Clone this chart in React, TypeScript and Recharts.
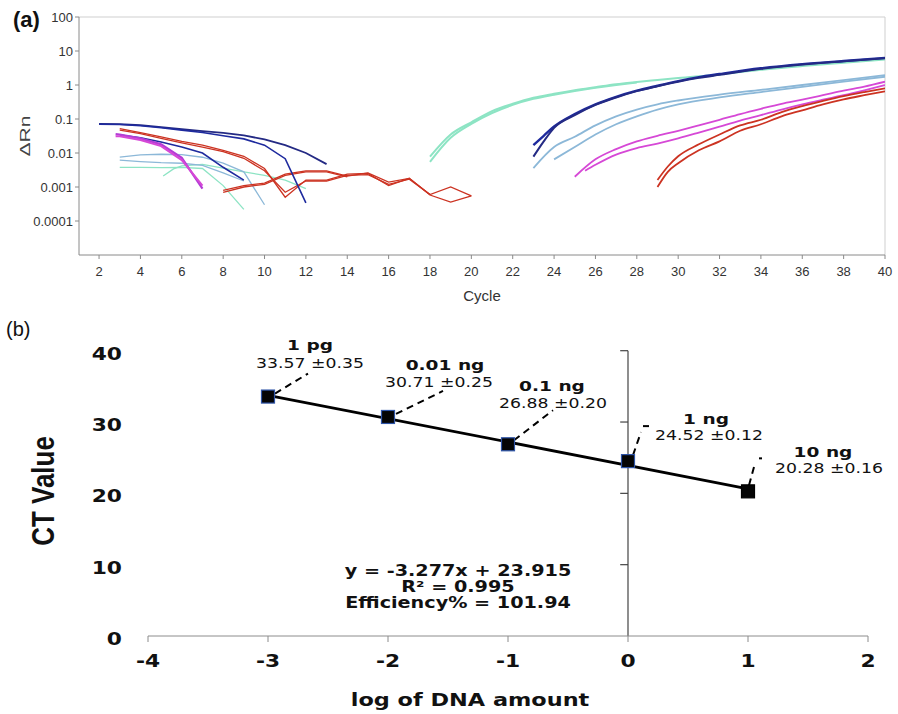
import React from 'react'
import { LineChart, Line, XAxis, YAxis, ReferenceLine, ComposedChart, Scatter } from 'recharts'

type Pt = [number, number]

// (a) amplification plot — ΔRn per cycle
const cycleTicks = [2, 4, 6, 8, 10, 12, 14, 16, 18, 20, 22, 24, 26, 28, 30, 32, 34, 36, 38, 40]
const rnTicks = [0.0001, 0.001, 0.01, 0.1, 1, 10, 100]

const navyBaseA: Pt[] = [[2, 0.072], [3, 0.071], [4, 0.066], [5, 0.058], [6, 0.05], [7, 0.044], [8, 0.039], [9, 0.033], [10, 0.025], [11, 0.017], [12, 0.01], [13, 0.0047]]
const navyBaseB: Pt[] = [[2, 0.07], [3, 0.069], [4, 0.063], [5, 0.055], [6, 0.047], [7, 0.04], [8, 0.032], [9, 0.026], [10, 0.017], [11, 0.0068], [12, 0.00034]]
const navyBaseC: Pt[] = [[3, 0.034], [4, 0.028], [5, 0.021], [6, 0.015], [7, 0.01], [8, 0.0038], [9, 0.0016]]
const magBaseA: Pt[] = [[2.8, 0.036], [3, 0.035], [4, 0.027], [5, 0.018], [6, 0.0072], [7, 0.0009]]
const magBaseB: Pt[] = [[2.8, 0.031], [3, 0.031], [4, 0.024], [5, 0.016], [6, 0.0062], [7, 0.0011]]
const redBaseA: Pt[] = [[3, 0.052], [4, 0.04], [5, 0.03], [6, 0.022], [7, 0.017], [8, 0.012], [9, 0.008], [10, 0.0035], [11, 0.0005], [12, 0.0016], [13, 0.0016], [14, 0.0024], [15, 0.0025], [16, 0.0011], [17, 0.0018], [18, 0.00058], [19, 0.00036], [20, 0.00055]]
const redBaseB: Pt[] = [[3, 0.047], [4, 0.037], [5, 0.027], [6, 0.02], [7, 0.015], [8, 0.011], [9, 0.007], [10, 0.003], [11, 0.0007], [12, 0.0015], [13, 0.0015], [14, 0.0022], [15, 0.0023], [16, 0.0012], [17, 0.0017], [18, 0.0006]]
const redLateA: Pt[] = [[8, 0.0008], [9, 0.0011], [10, 0.0013], [11, 0.0024], [12, 0.003], [13, 0.003], [14, 0.0021], [15, 0.0026], [16, 0.0014], [17, 0.0018], [18, 0.0006], [19, 0.001], [20, 0.00055]]
const redLateB: Pt[] = [[8, 0.0007], [9, 0.001], [10, 0.0012], [11, 0.0022], [12, 0.0028], [13, 0.0028], [14, 0.002]]
const cyanBaseA: Pt[] = [[3, 0.0038], [4, 0.0038], [5, 0.0037], [6, 0.0038], [7, 0.0035], [8, 0.0011], [9, 0.00022]]
const cyanBaseB: Pt[] = [[5.1, 0.0021], [5.6, 0.0034], [6, 0.0042], [7, 0.0046], [8, 0.0036], [9, 0.0028], [10, 0.0022], [11, 0.0016], [12, 0.0009]]
const steelBaseA: Pt[] = [[3, 0.0076], [4, 0.0088], [5, 0.0092], [6, 0.009], [7, 0.0075], [8, 0.005], [9, 0.0028], [10, 0.0003]]
const steelBaseB: Pt[] = [[3, 0.0062], [4, 0.0056], [5, 0.0052], [6, 0.005], [7, 0.0043], [8, 0.0026], [9, 0.0015]]

const cyanAmpA: Pt[] = [[18, 0.0078], [19, 0.035], [20, 0.08], [21, 0.17], [22, 0.28], [23, 0.42], [24, 0.55], [25, 0.7], [26, 0.86], [27, 1.05], [28, 1.22], [29, 1.4], [30, 1.6], [32, 2.05], [34, 2.8], [36, 3.6], [38, 4.5], [40, 5.6]]
const cyanAmpB: Pt[] = [[18, 0.0055], [19, 0.028], [20, 0.072], [21, 0.15], [22, 0.26], [23, 0.39], [24, 0.52], [25, 0.67], [26, 0.83], [27, 1.0], [28, 1.18]]
const steelAmpA: Pt[] = [[23, 0.0036], [24, 0.015], [25, 0.03], [26, 0.065], [27, 0.12], [28, 0.19], [29, 0.27], [30, 0.35], [32, 0.52], [34, 0.72], [36, 1.0], [38, 1.4], [40, 1.95]]
const steelAmpB: Pt[] = [[24, 0.0065], [25, 0.015], [26, 0.035], [27, 0.07], [28, 0.12], [29, 0.19], [30, 0.27], [32, 0.43], [34, 0.62], [36, 0.88], [38, 1.25], [40, 1.75]]
const magAmpA: Pt[] = [[25, 0.002], [26, 0.0065], [27, 0.013], [28, 0.022], [29, 0.032], [30, 0.045], [31, 0.065], [32, 0.095], [33, 0.14], [34, 0.2], [35, 0.28], [36, 0.37], [37, 0.5], [38, 0.68], [39, 0.9], [40, 1.25]]
const magAmpB: Pt[] = [[25.5, 0.003], [26, 0.0045], [27, 0.009], [28, 0.014], [29, 0.019], [30, 0.027], [31, 0.04], [32, 0.06], [33, 0.09], [34, 0.13], [35, 0.19], [36, 0.27], [37, 0.37], [38, 0.5], [39, 0.7], [40, 1.0]]
const redAmpA: Pt[] = [[29, 0.0016], [29.5, 0.004], [30, 0.008], [31, 0.018], [32, 0.035], [33, 0.065], [34, 0.095], [35, 0.16], [36, 0.24], [37, 0.34], [38, 0.47], [39, 0.62], [40, 0.8]]
const redAmpB: Pt[] = [[29, 0.001], [29.5, 0.0028], [30, 0.005], [31, 0.012], [32, 0.022], [33, 0.045], [34, 0.07], [35, 0.12], [36, 0.18], [37, 0.27], [38, 0.38], [39, 0.5], [40, 0.65]]
const navyAmpA: Pt[] = [[23, 0.017], [23.5, 0.032], [24, 0.06], [25, 0.14], [26, 0.27], [27, 0.45], [28, 0.68], [29, 0.95], [30, 1.3], [31, 1.7], [32, 2.1], [34, 3.1], [36, 4.1], [38, 5.1], [40, 6.3]]
const navyAmpB: Pt[] = [[23, 0.0078], [23.5, 0.022], [24, 0.055], [25, 0.13], [26, 0.26], [27, 0.43], [28, 0.66], [29, 0.92], [30, 1.25], [31, 1.62], [32, 2.0], [34, 3.0], [36, 4.0], [38, 5.0], [40, 6.1]]

// (b) standard curve
const logAmount = [-3, -2, -1, 0, 1]
const ctValue = [33.57, 30.71, 26.88, 24.52, 20.28]
const amountLabel = ['1 pg', '0.01 ng', '0.1 ng', '1 ng', '10 ng']
const ctSd = ['±0.35', '±0.25', '±0.20', '±0.12', '±0.16']
const trendX = [-3, 1]
const trendY = [33.75, 20.64]
const fitText = ['y = -3.277x + 23.915', 'R² = 0.995', 'Efficiency% = 101.94']
const xTicksB = [-4, -3, -2, -1, 0, 1, 2]
const yTicksB = [0, 10, 20, 30, 40]

const NAVY = '#1e2a9e'
const NAVY_DK = '#242a84'
const STEEL = '#8cb8d8'
const CYAN = '#8de4c4'
const MAG = '#d648d6'
const PURPLE = '#b43cd6'
const RED = '#cc3322'

const curvesA = [
  { id: 'cb1', pts: cyanBaseA, color: CYAN, w: 1.3, smooth: false },
  { id: 'cb2', pts: cyanBaseB, color: CYAN, w: 1.3, smooth: false },
  { id: 'sb1', pts: steelBaseA, color: STEEL, w: 1.3, smooth: false },
  { id: 'sb2', pts: steelBaseB, color: STEEL, w: 1.3, smooth: false },
  { id: 'rb1', pts: redBaseA, color: RED, w: 1.3, smooth: false },
  { id: 'rb2', pts: redBaseB, color: RED, w: 1.3, smooth: false },
  { id: 'rl1', pts: redLateA, color: RED, w: 1.3, smooth: false },
  { id: 'rl2', pts: redLateB, color: RED, w: 1.3, smooth: false },
  { id: 'nb1', pts: navyBaseA, color: NAVY_DK, w: 1.8, smooth: false },
  { id: 'nb2', pts: navyBaseB, color: NAVY, w: 1.6, smooth: false },
  { id: 'nb3', pts: navyBaseC, color: NAVY, w: 1.6, smooth: false },
  { id: 'mb1', pts: magBaseA, color: PURPLE, w: 2.2, smooth: false },
  { id: 'mb2', pts: magBaseB, color: MAG, w: 2, smooth: false },
  { id: 'ca1', pts: cyanAmpA, color: CYAN, w: 2, smooth: true },
  { id: 'ca2', pts: cyanAmpB, color: CYAN, w: 2, smooth: true },
  { id: 'sa1', pts: steelAmpA, color: STEEL, w: 1.8, smooth: true },
  { id: 'sa2', pts: steelAmpB, color: STEEL, w: 1.8, smooth: true },
  { id: 'ma1', pts: magAmpA, color: MAG, w: 1.8, smooth: true },
  { id: 'ma2', pts: magAmpB, color: MAG, w: 1.8, smooth: true },
  { id: 'ra1', pts: redAmpA, color: RED, w: 1.8, smooth: true },
  { id: 'ra2', pts: redAmpB, color: RED, w: 1.8, smooth: true },
  { id: 'na1', pts: navyAmpA, color: NAVY, w: 2.4, smooth: true },
  { id: 'na2', pts: navyAmpB, color: NAVY_DK, w: 2, smooth: true },
]

// label placement around each standard point, pixels from the square's centre
const annoPos = [
  { lead: [7, -3, 40, -23], name: [42, -47], val: [42, -29] },
  { lead: [8, -3, 55, -26], name: [57, -47], val: [51, -30] },
  { lead: [6, -4, 45, -34], name: [44, -53], val: [45, -36] },
  { lead: [5, -6, 13, -29], dash: [15, -35, 21, -35], name: [78, -37], val: [81, -21] },
  { lead: [1, -6, 7, -28], dash: [11, -33, 14, -33], name: [75, -34], val: [81, -18] },
]
const squareEdge = ['#2f55a8', '#2f55a8', '#2f55a8', '#2f55a8', '#000']

const toData = (pts: Pt[]) => pts.map(([c, v]) => ({ c, v }))

const narrow = '"Liberation Sans Narrow", "Arial Narrow", sans-serif'
const wide = '"DejaVu Sans", Verdana, sans-serif'
const SX = 1.28

function WideText({ x, y, size, bold, anchor = 'middle', children }: any) {
  return (
    <text
      transform={`translate(${x} ${y}) scale(${SX} 1)`}
      textAnchor={anchor}
      fontFamily={wide}
      fontSize={size}
      fontWeight={bold ? 700 : 400}
      fill="#111"
    >
      {children}
    </text>
  )
}

function StdPoint(props: any) {
  const { cx, cy, payload } = props
  const i = logAmount.indexOf(payload.x)
  const a = annoPos[i]
  const s = 13
  return (
    <g>
      <line x1={cx + a.lead[0]} y1={cy + a.lead[1]} x2={cx + a.lead[2]} y2={cy + a.lead[3]} stroke="#000" strokeWidth={2} strokeDasharray="7 5" />
      {a.dash && <line x1={cx + a.dash[0]} y1={cy + a.dash[1]} x2={cx + a.dash[2]} y2={cy + a.dash[3]} stroke="#000" strokeWidth={2} />}
      <rect x={cx - s / 2} y={cy - s / 2} width={s} height={s} fill="#050505" stroke={squareEdge[i]} strokeWidth={1.2} />
      <WideText x={cx + a.name[0]} y={cy + a.name[1]} size={14.5} bold>{amountLabel[i]}</WideText>
      <WideText x={cx + a.val[0]} y={cy + a.val[1]} size={13.5}>{`${ctValue[i].toFixed(2)} ${ctSd[i]}`}</WideText>
    </g>
  )
}

export default function App() {
  const pointsB = logAmount.map((x, i) => ({ x, y: ctValue[i] }))
  const trendData = trendX.map((x, i) => ({ x, y: trendY[i] }))

  return (
    <div style={{ position: 'absolute', left: 0, top: 0, width: 898, height: 714, background: '#fff' }}>
      <div style={{ position: 'absolute', left: 0, top: 0 }}>
        <LineChart width={898} height={310} margin={{ top: 17, right: 13, left: 0, bottom: 0 }}>
          <XAxis
            type="number"
            dataKey="c"
            domain={[1.03, 40]}
            ticks={cycleTicks}
            interval={0}
            allowDataOverflow
            height={55}
            tickSize={4}
            tickMargin={8}
            axisLine={{ stroke: '#8a8a8a' }}
            tickLine={{ stroke: '#8a8a8a' }}
            tick={{ fontFamily: narrow, fontSize: 13, fill: '#333' }}
          />
          <YAxis
            type="number"
            scale="log"
            domain={[0.00001, 100]}
            ticks={rnTicks}
            interval={0}
            allowDataOverflow
            width={79}
            tickSize={4}
            tickMargin={2}
            tickFormatter={(v: number) => String(v)}
            axisLine={{ stroke: '#8a8a8a' }}
            tickLine={{ stroke: '#8a8a8a' }}
            tick={{ fontFamily: narrow, fontSize: 13, fill: '#333' }}
          />
          <ReferenceLine y={100} stroke="#cfcfcf" />
          <ReferenceLine x={40} stroke="#cfcfcf" />
          {curvesA.map((c) => (
            <Line
              key={c.id}
              data={toData(c.pts)}
              dataKey="v"
              type={c.smooth ? 'monotone' : 'linear'}
              stroke={c.color}
              strokeWidth={c.w}
              dot={false}
              activeDot={false}
              isAnimationActive={false}
            />
          ))}
        </LineChart>
      </div>

      <div style={{ position: 'absolute', left: 0, top: 320 }}>
        <ComposedChart width={898} height={394} margin={{ top: 30.7, right: 30, left: 0, bottom: 0 }}>
          <XAxis
            type="number"
            dataKey="x"
            domain={[-4, 2]}
            ticks={xTicksB}
            interval={0}
            height={78}
            tickSize={6}
            tickMargin={2}
            axisLine={{ stroke: '#8c8c8c' }}
            tickLine={{ stroke: '#8c8c8c' }}
            tick={(p: any) => (
              <WideText x={p.x} y={p.y + 23} size={17} bold>{p.payload.value}</WideText>
            )}
          />
          <YAxis
            type="number"
            domain={[0, 40]}
            ticks={yTicksB}
            interval={0}
            width={148}
            axisLine={false}
            tickLine={false}
            tickMargin={20}
            tick={(p: any) => (
              <WideText x={p.x} y={p.y + 9} size={17} bold anchor="end">{p.payload.value}</WideText>
            )}
          />
          <ReferenceLine segment={[{ x: 0, y: 0 }, { x: 0, y: 40 }]} stroke="#444" strokeWidth={1.2} />
          {yTicksB.slice(1).map((t) => (
            <ReferenceLine key={t} segment={[{ x: -0.065, y: t }, { x: 0, y: t }]} stroke="#444" strokeWidth={1.2} />
          ))}
          <Line data={trendData} dataKey="y" type="linear" stroke="#000" strokeWidth={2.8} dot={false} activeDot={false} isAnimationActive={false} />
          <Scatter data={pointsB} dataKey="y" shape={StdPoint} isAnimationActive={false} />
        </ComposedChart>
      </div>

      <svg width={898} height={714} style={{ position: 'absolute', left: 0, top: 0, pointerEvents: 'none' }}>
        <text x={13} y={27} fontFamily="'Liberation Sans', Arial, sans-serif" fontSize={22} fontWeight={700} fill="#111">(a)</text>
        <text transform="translate(30 136) rotate(-90) scale(1.4 1)" textAnchor="middle" fontFamily="'Liberation Sans', Arial, sans-serif" fontSize={15} fill="#444">ΔRn</text>
        <text x={482} y={301} textAnchor="middle" fontFamily={narrow} fontSize={15} fill="#333">Cycle</text>

        <text x={6} y={336} fontFamily="'Liberation Sans', Arial, sans-serif" fontSize={20} fill="#111">(b)</text>
        <text transform="translate(54 491) rotate(-90) scale(1 1.2)" textAnchor="middle" fontFamily={narrow} fontSize={26} fontWeight={700} fill="#111">CT Value</text>
        <WideText x={470} y={706} size={17.5} bold>log of DNA amount</WideText>
        {fitText.map((t, i) => (
          <WideText key={t} x={458} y={576 + i * 16} size={15} bold>{t}</WideText>
        ))}
      </svg>
    </div>
  )
}
